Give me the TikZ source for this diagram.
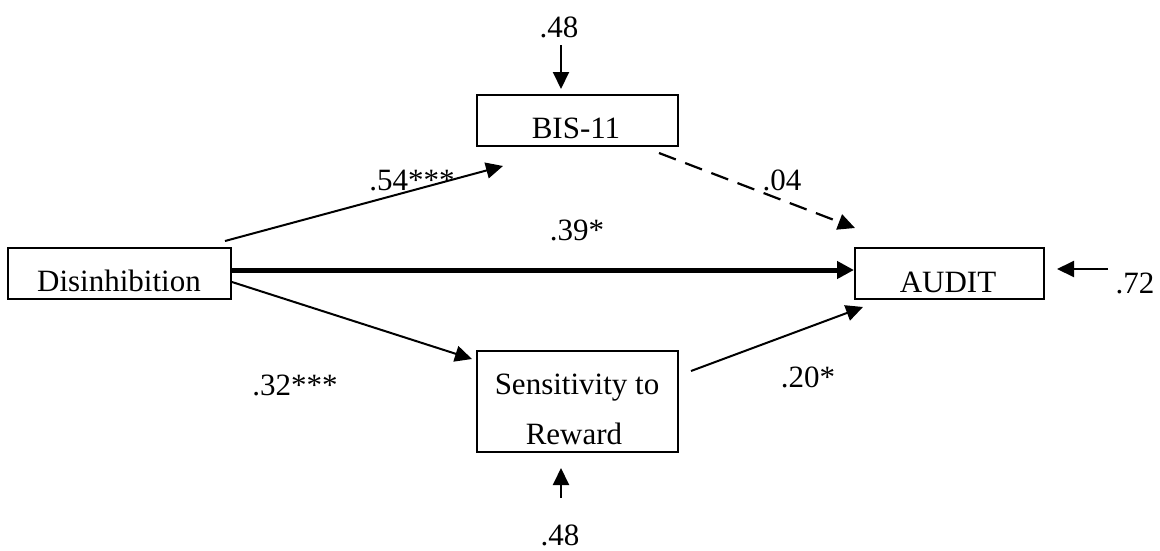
\documentclass[tikz,border=0pt]{standalone}
\usepackage{fontspec}
\setmainfont{Liberation Serif}
\usetikzlibrary{arrows.meta,calc}
\begin{document}
\begin{tikzpicture}[x=1pt,y=-1pt,
  box/.style={draw,line width=2pt,minimum height=51pt,inner sep=0pt},
  txt/.style={anchor=base,inner sep=0pt,font=\fontsize{31}{36}\selectfont},
  arr/.style={line width=2pt,-{Triangle[length=17pt,width=16pt]}},
  thickarr/.style={line width=5pt,-{Triangle[length=17pt,width=17pt]}},
  dasharr/.style={arr,line width=2.2pt,dash pattern=on 18pt off 10pt}]
\useasboundingbox (0,0) rectangle (1160,550);
% boxes
\node[box,minimum width=223pt] (dis) at (119.5,273.5) {};
\node[box,minimum width=201pt] (bis) at (577.5,120.5) {};
\node[box,minimum width=189pt] (aud) at (949.5,273.5) {};
\node[box,minimum width=201pt,minimum height=101pt] (sr) at (577.5,401.5) {};
% box texts
\node[txt] (distext) at (119,291.5) {Disinhibition};
\node[txt] (bistext) at (576,138) {BIS-11};
\node[txt] (audtext) at (948,292) {AUDIT};
\node[txt] (srtext1) at (577,394) {Sensitivity to};
\node[txt] (srtext2) at (574,444) {Reward};
% error terms
\node[txt] (ebis) at (559,37) {.48};
\node[txt] (esr) at (560,545) {.48};
\node[txt] (eaud) at (1135,293) {.72};
\coordinate (ebisA) at (561,45);
\coordinate (esrA) at (561,498);
\coordinate (eaudA) at (1108,269);
% connector end points
\coordinate (d1) at (225,241);
\coordinate (b1) at (503,166);
\coordinate (b2) at (659,153);
\coordinate (a1) at (855,228);
\coordinate (d2) at (231,270);
\coordinate (a2) at (855,270);
\coordinate (d3) at (232,282);
\coordinate (s1) at (472,359);
\coordinate (s2) at (691,371);
\coordinate (a3) at (863,307);
% connectors
\draw[arr] (ebisA) -- ($(bis.north -| ebisA)+(0,-5)$);
\draw[arr] (esrA) -- ($(sr.south -| esrA)+(0,15)$);
\draw[arr] (eaudA) -- ($(aud.east |- eaudA)+(12,0)$);
\draw[arr] (d1) -- (b1);
\draw[dasharr] (b2) -- (a1);
\draw[thickarr] (dis.east |- d2) -- (aud.west |- a2);
\draw[arr] (d3) -- (s1);
\draw[arr] (s2) -- (a3);
% path labels
\node[txt] (l1) at (412,190) {.54***};
\node[txt] (l2) at (782,190) {.04};
\node[txt] (l3) at (577,240) {.39*};
\node[txt] (l4) at (295,395) {.32***};
\node[txt] (l5) at (808,387) {.20*};
\end{tikzpicture}
\end{document}
